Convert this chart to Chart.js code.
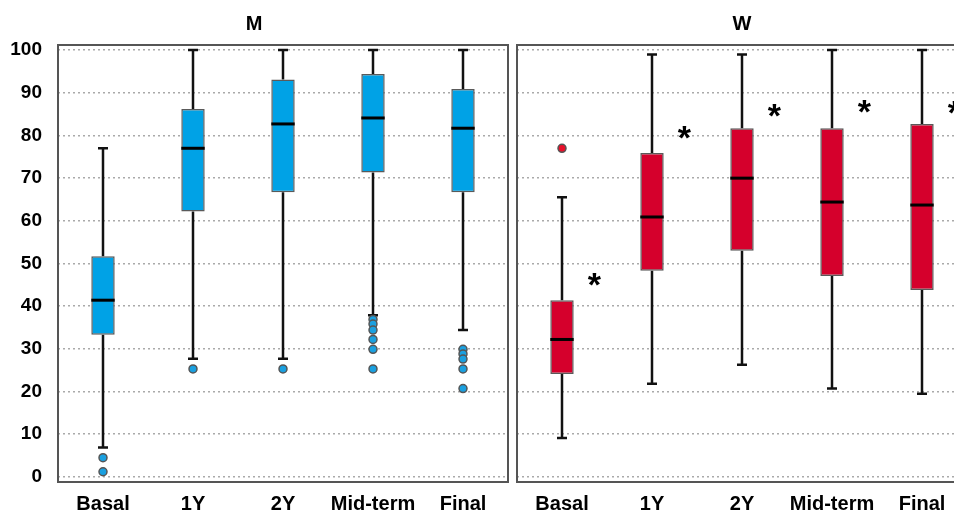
<!DOCTYPE html>
<html>
<head>
<meta charset="utf-8">
<script src="https://cdn.jsdelivr.net/npm/chart.js@4.4.1/dist/chart.umd.min.js"></script>
<style>
  html, body { margin: 0; padding: 0; background: #fff; overflow: hidden; }
  #wrap { position: relative; width: 954px; height: 514px; overflow: hidden; }
  #chart-m { position: absolute; left: 0; top: 0; }
  #chart-w { position: absolute; left: 510px; top: 0; }
</style>
</head>
<body>
<div id="wrap">
  <canvas id="chart-m" width="510" height="514"></canvas>
  <canvas id="chart-w" width="460" height="514"></canvas>
</div>
<script>
const categories = ['Basal', '1Y', '2Y', 'Mid-term', 'Final'];
const yTicks = [0, 10, 20, 30, 40, 50, 60, 70, 80, 90, 100];

// M
const mMin = [6.9, 27.7, 27.7, 37.9, 34.4];
const mQ1 = [33.3, 62.2, 66.7, 71.3, 66.7];
const mMedian = [41.4, 77.0, 82.7, 84.1, 81.7];
const mQ3 = [51.7, 86.2, 93.1, 94.4, 90.9];
const mMax = [77.0, 100, 100, 100, 100];
const mOutliers = [[4.5, 1.2], [25.3], [25.3], [36.9, 35.8, 34.4, 32.2, 29.9, 25.3], [29.9, 28.8, 27.6, 25.3, 20.7]];

// W
const wMin = [9.1, 21.8, 26.3, 20.7, 19.5];
const wQ1 = [24.1, 48.3, 53.0, 47.1, 43.8];
const wMedian = [32.2, 60.9, 70.0, 64.4, 63.7];
const wQ3 = [41.4, 75.9, 81.7, 81.7, 82.7];
const wMax = [65.5, 99.0, 99.0, 100, 100];
const wOutliers = [[77.0], [], [], [], []];
const wStars = [45.6, 80.0, 85.3, 86.2, 86.0];

const FONT = "'Liberation Sans', Arial, sans-serif";

// whiskers, caps and medians drawn through the chart's scales
const boxPlugin = {
  id: 'boxExtras',
  beforeDatasetsDraw(chart) {
    const box = chart.options.plugins.boxExtras;
    const x = chart.scales.x, y = chart.scales.y;
    const ctx = chart.ctx;
    ctx.save();
    ctx.strokeStyle = '#111';
    ctx.lineWidth = 2.5;
    box.q1.forEach((q1, i) => {
      const px = x.getPixelForValue(i);
      const segs = [[box.q3[i], box.max[i]], [q1, box.min[i]]];
      segs.forEach(([from, to]) => {
        ctx.beginPath();
        ctx.moveTo(px, y.getPixelForValue(from));
        ctx.lineTo(px, y.getPixelForValue(to));
        ctx.moveTo(px - 5, y.getPixelForValue(to));
        ctx.lineTo(px + 5, y.getPixelForValue(to));
        ctx.stroke();
      });
    });
    ctx.restore();
  },
  afterDatasetsDraw(chart) {
    const box = chart.options.plugins.boxExtras;
    const x = chart.scales.x, y = chart.scales.y;
    const ctx = chart.ctx;
    const bars = chart.getDatasetMeta(0).data;
    ctx.save();
    ctx.strokeStyle = '#000';
    ctx.lineWidth = 3;
    box.median.forEach((m, i) => {
      const half = bars[i].width / 2;
      const px = x.getPixelForValue(i);
      const py = y.getPixelForValue(m);
      ctx.beginPath();
      ctx.moveTo(px - half, py);
      ctx.lineTo(px + half, py);
      ctx.stroke();
    });
    // significance marks
    if (box.stars) {
      const step = x.getPixelForValue(1) - x.getPixelForValue(0);
      ctx.fillStyle = '#000';
      ctx.font = 'bold 34px ' + FONT;
      ctx.textAlign = 'center';
      ctx.textBaseline = 'alphabetic';
      box.stars.forEach((v, i) => {
        ctx.fillText('*', x.getPixelForValue(i) + step * 0.36, y.getPixelForValue(v) + 14);
      });
    }
    // frame
    const a = chart.chartArea;
    ctx.strokeStyle = '#555';
    ctx.lineWidth = 2;
    ctx.strokeRect(a.left, a.top, a.right - a.left, a.bottom - a.top);
    ctx.restore();
  }
};

function makeChart(canvasId, title, s, colors, showYLabels, padLeft, padRight) {
  const outlierPoints = [];
  s.outliers.forEach((list, i) => {
    list.forEach(v => outlierPoints.push({ x: categories[i], y: v }));
  });

  return new Chart(document.getElementById(canvasId), {
    type: 'bar',
    data: {
      labels: categories,
      datasets: [{
        data: s.q1.map((q1, i) => [q1, s.q3[i]]),
        backgroundColor: colors.fill,
        borderColor: '#5a5a5a',
        borderWidth: 1.5,
        borderSkipped: false,
        barPercentage: 0.26,
        categoryPercentage: 1
      }, {
        type: 'line',
        data: outlierPoints,
        showLine: false,
        pointRadius: 4,
        pointBackgroundColor: colors.point,
        pointBorderColor: '#555',
        pointBorderWidth: 1.5
      }]
    },
    options: {
      responsive: false,
      animation: false,
      layout: { autoPadding: false, padding: { left: padLeft, right: padRight, top: 0, bottom: 0 } },
      plugins: {
        legend: { display: false },
        tooltip: { enabled: false },
        title: {
          display: true,
          text: title,
          color: '#000',
          font: { family: FONT, size: 20, weight: 'bold' },
          padding: { top: 12, bottom: 9 }
        },
        boxExtras: s
      },
      scales: {
        x: {
          grid: { display: false, drawTicks: false },
          border: { display: false },
          ticks: {
            color: '#000',
            padding: 10,
            maxRotation: 0,
            minRotation: 0,
            autoSkip: false,
            font: { family: FONT, size: 20, weight: 'bold' }
          },
          afterFit: sc => { sc.height = 32; }
        },
        y: {
          min: -1.2,
          max: 101.2,
          afterBuildTicks: sc => { sc.ticks = yTicks.map(v => ({ value: v })); },
          afterFit: sc => { sc.width = showYLabels ? 58 : 0; },
          border: { display: false, dash: [2, 3] },
          grid: { color: '#aaa', lineWidth: 1.5, drawTicks: false },
          ticks: {
            display: showYLabels,
            color: '#000',
            padding: 16,
            font: { family: FONT, size: 19, weight: 'bold' }
          }
        }
      }
    },
    plugins: [boxPlugin]
  });
}

makeChart('chart-m', 'M',
  { min: mMin, q1: mQ1, median: mMedian, q3: mQ3, max: mMax, outliers: mOutliers },
  { fill: '#00a2e6', point: '#1aa0e0' }, true, 0, 2);

makeChart('chart-w', 'W',
  { min: wMin, q1: wQ1, median: wMedian, q3: wQ3, max: wMax, outliers: wOutliers, stars: wStars },
  { fill: '#d5002c', point: '#e8102a' }, false, 7, 3);
</script>
</body>
</html>
